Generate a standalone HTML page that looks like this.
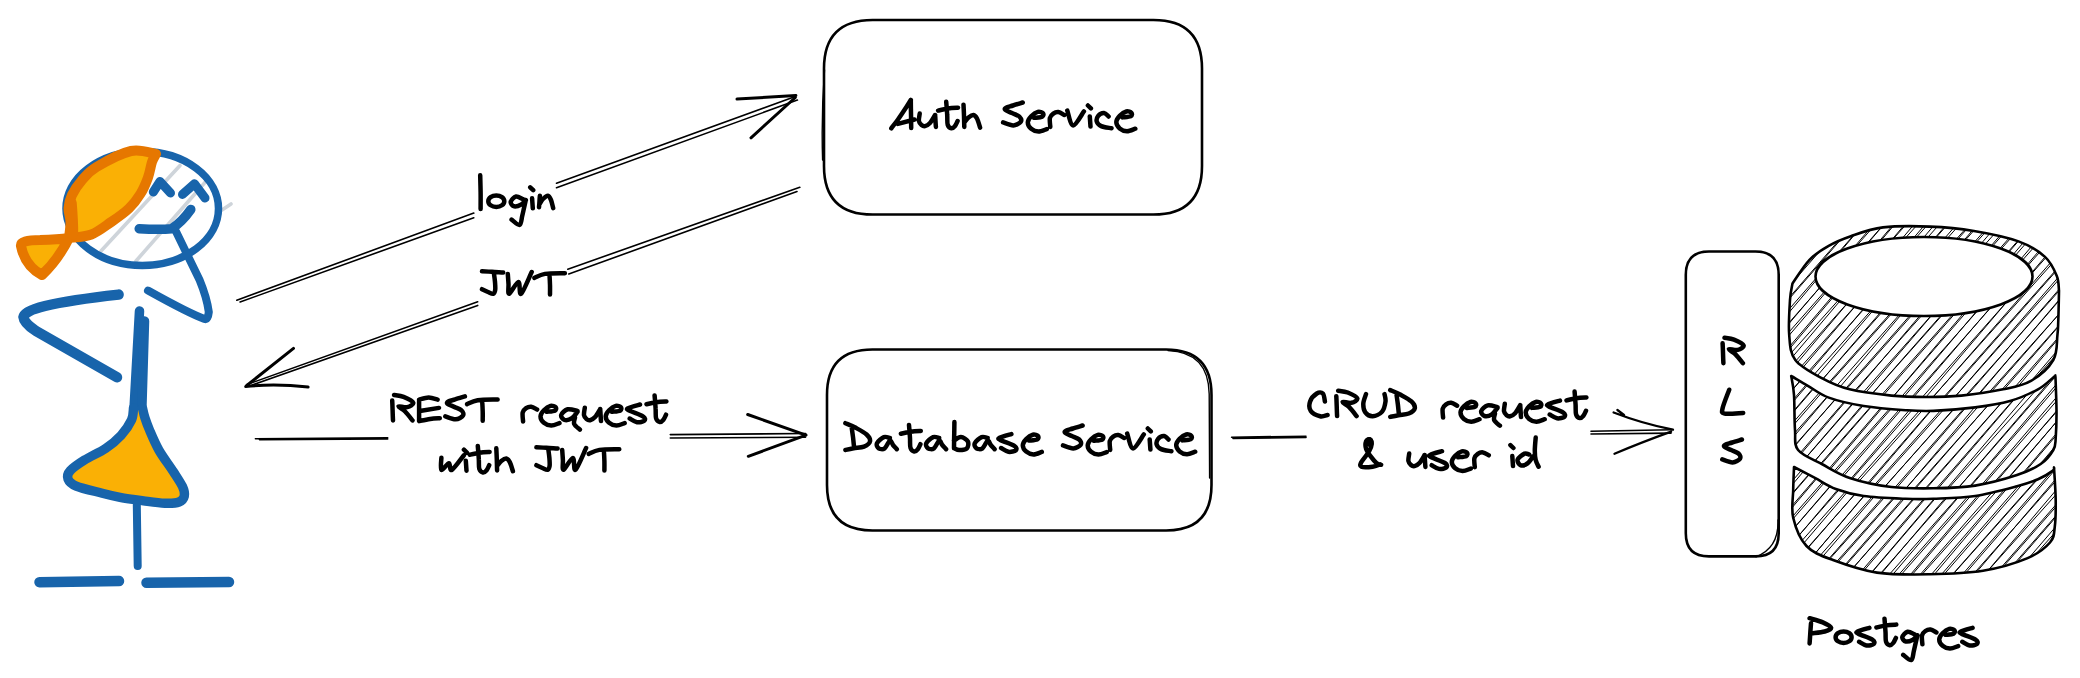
<!DOCTYPE html>
<html><head><meta charset="utf-8">
<style>
html,body{margin:0;padding:0;background:#fff;width:2080px;height:678px;overflow:hidden}
svg{display:block}

</style></head>
<body>
<svg width="2080" height="678" viewBox="0 0 2080 678">

<g fill="none" stroke="#000" stroke-width="2.6" stroke-linecap="round" stroke-linejoin="round">
<!-- Auth box -->
<path d="M872.6,20 L1153.4,20 Q1202,20 1202,68.6 L1202,165.9 Q1202,214.5 1153.4,214.5 L872.6,214.5 Q824,214.5 824,165.9 L824,68.6 Q824,20 872.6,20 Z"/>
<!-- DB box -->
<path d="M872.4,349.5 L1166.1,349.5 Q1211.5,349.5 1211.5,394.9 L1211.5,485.1 Q1211.5,530.5 1166.1,530.5 L872.4,530.5 Q827,530.5 827,485.1 L827,394.9 Q827,349.5 872.4,349.5 Z"/>
<!-- RLS box -->
<path d="M1709,251.5 L1755.5,251.5 Q1778.7,251.5 1778.7,274.7 L1778.7,533.2 Q1778.7,556.4 1755.5,556.4 L1709,556.4 Q1685.8,556.4 1685.8,533.2 L1685.8,274.7 Q1685.8,251.5 1709,251.5 Z"/>
<path stroke-width="1.4" d="M824.5,70 Q821.2,115 822.6,160 M1168,350.6 Q1208.5,352 1209.2,394 L1209.6,478 M1778,520 Q1779,548 1756,556.8"/>
<!-- arrows -->
</g>
<g fill="none" stroke="#000" stroke-linecap="round" stroke-linejoin="round">
<path stroke-width="1.6" d="M236.8,300.2L473.8,213.1M240.1,302L473.8,217.7M556.5,183.3L795.3,96.5M556.5,187.7L797.4,100.1
M799.8,187.3L567.8,269.2M797,191.5L568.8,274M477.7,301.7L247,384.5M477.7,305.4L250,385.8
M255.4,438.8L387.7,437.9M259.4,439.6L387.7,439M670.3,434.6L805.5,433.5M670.3,438L805.5,437.2
M1231.6,437.2L1306,436.2M1233,438.4L1306,437.4M1591,431.2L1672,429.7M1591,434L1671.1,433.1"/>
<path stroke-width="3" d="M737,99.1L795.9,95.5M751,137.8L795.3,97.5
M293.5,348.4L246.5,385.7M308.1,387Q275,383.5 245.7,386.5
M747.7,414.5L806,435.1M748.3,456.3L806,435.1
"/>
<path stroke-width="2.3" d="M1613.6,412.5Q1642,423.5 1673,429.7M1617.4,410L1624,415M1614.5,453.7Q1641,442.5 1671.1,431.6"/>
</g>
<!-- Cylinder -->
<g id="cyl">
<defs>
<clipPath id="c1"><path d="M1792.5,283.4C1795.3,279.5 1803.5,266.1 1809.5,259.8C1815.5,253.5 1821.8,249.7 1828.7,245.8C1835.6,241.9 1841.8,239.3 1850.8,236.2C1859.8,233.1 1869.8,229.0 1883.0,227.4C1896.2,225.8 1914.8,226.0 1930.0,226.6C1945.2,227.2 1959.2,228.5 1974.0,231.0C1988.8,233.5 2006.7,237.1 2018.5,241.4C2030.3,245.7 2038.6,251.1 2045.0,256.9C2051.4,262.7 2054.5,270.4 2056.8,276.0C2059.1,281.6 2058.6,288.3 2059.0,290.8C2058.9,295.7 2058.6,312.6 2058.3,320.0C2058.0,327.4 2058.2,328.7 2057.4,335.4C2056.6,342.1 2057.7,352.4 2053.3,360.0C2048.9,367.6 2039.4,376.0 2031.0,380.9C2022.6,385.8 2014.7,386.9 2003.1,389.3C1991.5,391.8 1974.1,394.3 1961.3,395.6C1948.5,396.9 1938.0,397.0 1926.4,397.0C1914.8,397.0 1904.3,396.9 1891.5,395.6C1878.7,394.3 1861.3,392.2 1849.7,389.3C1838.1,386.4 1830.9,383.0 1821.8,378.1C1812.7,373.2 1800.7,367.2 1795.3,360.0C1789.9,352.8 1790.1,345.0 1789.2,335.0C1788.3,325.0 1789.5,308.6 1790.0,300.0C1790.5,291.4 1792.1,286.2 1792.5,283.4Z"/></clipPath>
<clipPath id="c2"><path d="M1791.2,376.0C1794.0,377.6 1801.6,382.2 1807.9,385.8C1814.2,389.4 1819.5,394.2 1828.8,397.6C1838.1,401.0 1850.9,403.9 1863.7,406.0C1876.5,408.1 1893.9,409.4 1905.5,410.2C1917.1,411.0 1921.8,411.4 1933.4,410.9C1945.0,410.4 1962.4,409.0 1975.2,407.4C1988.0,405.8 1999.5,404.1 2010.0,401.1C2020.5,398.1 2030.8,393.2 2038.0,389.3C2045.2,385.4 2050.4,379.7 2053.3,377.4C2056.2,375.1 2055.1,375.6 2055.4,375.3C2055.6,381.1 2056.4,399.6 2056.5,410.0C2056.6,420.4 2056.2,431.3 2055.7,438.0C2055.2,444.7 2055.8,445.7 2053.3,450.0C2050.8,454.3 2046.8,459.8 2040.7,464.0C2034.7,468.2 2027.9,471.5 2017.0,475.1C2006.1,478.7 1989.1,483.4 1975.2,485.6C1961.3,487.8 1947.4,488.1 1933.4,488.3C1919.5,488.5 1905.5,488.7 1891.5,487.0C1877.5,485.3 1861.3,481.7 1849.7,477.9C1838.1,474.1 1830.4,468.6 1821.8,464.0C1813.2,459.4 1802.6,455.7 1798.1,450.0C1793.6,444.3 1795.7,439.2 1795.0,430.0C1794.3,420.8 1794.6,403.9 1794.0,394.9C1793.4,385.9 1791.7,379.1 1791.2,376.0Z"/></clipPath>
<clipPath id="c3"><path d="M1794.0,467.0C1797.5,468.8 1807.9,474.2 1814.9,477.9C1821.9,481.6 1827.7,486.0 1835.8,489.0C1843.9,492.0 1852.1,494.4 1863.7,496.0C1875.3,497.6 1893.9,498.3 1905.5,498.8C1917.1,499.3 1921.8,499.3 1933.4,498.8C1945.0,498.3 1961.3,498.1 1975.2,496.0C1989.1,493.9 2006.5,489.1 2017.0,486.3C2027.5,483.5 2032.1,481.9 2038.0,479.3C2043.9,476.7 2049.9,472.9 2052.6,470.9C2055.3,468.9 2053.8,468.0 2054.0,467.4C2054.3,472.8 2055.6,490.1 2055.7,500.0C2055.8,509.9 2055.8,519.4 2054.8,526.5C2053.9,533.6 2054.6,537.2 2050.0,542.5C2045.4,547.8 2038.2,553.7 2027.0,558.4C2015.8,563.1 1999.2,568.1 1983.0,570.8C1966.8,573.4 1947.7,574.0 1930.0,574.3C1912.3,574.6 1893.2,575.0 1877.0,572.6C1860.8,570.2 1844.8,564.4 1833.0,560.0C1821.2,555.6 1813.1,553.0 1806.5,546.0C1799.9,539.0 1795.4,527.0 1793.2,517.7C1791.0,508.4 1793.1,498.4 1793.2,490.0C1793.3,481.6 1793.9,470.8 1794.0,467.0Z"/></clipPath>
</defs>
<g clip-path="url(#c1)"><path d="M1688.6,331.5L1907.9,72.7M1687.7,330.8L1910.2,74.7M1691.7,334.3L1916.7,80.4M1694.2,336.5L1915.8,79.5M1697.5,339.3L1923.2,86.0M1697.9,339.6L1923.6,86.4M1705.8,346.5L1926.9,89.2M1707.0,347.6L1925.9,88.3M1711.8,351.7L1933.2,94.6M1710.5,350.6L1935.7,96.8M1716.5,355.9L1938.9,99.6M1716.0,355.4L1940.9,101.4M1720.8,359.5L1947.0,106.6M1723.3,361.8L1946.4,106.1M1729.1,366.8L1951.5,110.6M1729.7,367.3L1952.3,111.3M1734.7,371.6L1957.6,115.9M1737.3,373.8L1956.0,114.5M1742.4,378.3L1962.4,120.0M1741.1,377.2L1965.1,122.4M1745.7,381.2L1969.9,126.6M1748.1,383.3L1968.6,125.5M1753.9,388.4L1973.8,130.0M1755.2,389.4L1974.2,130.3M1757.0,391.0L1983.4,138.3M1760.8,394.3L1980.2,135.5M1766.5,399.2L1985.3,140.0M1763.7,396.9L1989.6,143.7M1771.8,403.9L1992.2,146.0M1769.6,402.0L1995.4,148.7M1778.3,409.5L1997.3,150.4M1776.2,407.7L2001.7,154.3M1780.9,411.8L2006.5,158.4M1784.1,414.6L2004.4,156.6M1788.6,418.5L2010.7,162.0M1788.2,418.1L2013.1,164.1M1793.3,422.6L2018.7,169.0M1794.1,423.2L2019.6,169.8M1799.4,427.8L2024.1,173.7M1802.9,430.9L2021.9,171.8M1806.0,433.6L2030.1,178.9M1806.6,434.2L2031.4,180.1M1813.8,440.4L2033.6,182.0M1811.9,438.8L2037.6,185.4M1817.7,443.8L2042.5,189.7M1820.1,445.9L2040.6,188.0M1823.5,448.9L2047.7,194.2M1823.3,448.6L2049.0,195.3M1829.5,454.1L2054.1,199.7M1830.9,455.2L2054.4,200.1M1838.2,461.5L2057.2,202.5M1837.5,461.0L2059.5,204.5M1841.5,464.4L2066.5,210.5M1844.4,467.0L2063.9,208.3M1847.7,469.8L2072.1,215.5M1849.8,471.7L2070.5,214.1M1853.5,474.9L2078.4,220.9M1857.1,478.1L2076.8,219.5M1860.1,480.7L2083.3,225.1M1859.0,479.7L2085.1,226.7M1865.7,485.5L2090.2,231.2M1866.4,486.1L2090.9,231.7M1872.9,491.8L2094.7,235.1M1871.7,490.7L2096.7,236.8M1876.8,495.1L2102.7,242.0M1879.0,497.1L2101.2,240.7M1885.0,502.3L2106.7,245.5M1886.5,503.6L2105.8,244.7M1888.2,505.0L2114.4,252.2M1890.6,507.2L2113.6,251.5M1894.6,510.7L2119.7,256.8M1897.2,512.9L2119.2,256.4M1901.4,516.5L2125.0,261.4M1905.3,519.9L2124.2,260.7M1909.0,523.2L2130.1,265.9M1907.7,522.0L2133.0,268.4M1912.0,525.7L2138.2,272.9M1916.2,529.4L2137.2,272.0M1918.7,531.5L2144.9,278.7M1921.0,533.6L2143.8,277.7M1925.6,537.6L2149.6,282.8M1925.9,537.8L2151.7,284.6M1933.1,544.1L2153.8,286.4M1934.3,545.1L2155.0,287.5M1939.4,549.5L2159.7,291.6M1938.8,549.0L2162.5,294.0" stroke="#000" stroke-width="1.0" fill="none"/></g>
<ellipse cx="1924" cy="276.5" rx="108.5" ry="39.5" fill="#fff" stroke="#000" stroke-width="2.6"/>
<g clip-path="url(#c2)"><path d="M1708.7,451.4L1911.2,213.1M1708.8,451.5L1911.9,213.8M1713.6,455.6L1918.2,219.2M1713.6,455.7L1919.5,220.4M1719.5,460.8L1923.8,224.1M1719.9,461.1L1924.0,224.3M1726.7,467.1L1929.1,228.8M1725.7,466.2L1931.6,230.9M1731.4,471.2L1936.0,234.7M1732.9,472.5L1935.7,234.4M1737.5,476.5L1940.9,239.0M1737.6,476.6L1942.1,240.0M1742.0,480.3L1949.0,246.0M1744.0,482.1L1949.1,246.1M1750.5,487.7L1952.6,249.2M1747.8,485.4L1956.3,252.4M1755.4,492.0L1959.2,254.9M1754.2,491.0L1961.7,257.1M1761.7,497.5L1965.7,260.6M1763.0,498.6L1965.4,260.3M1767.3,502.4L1971.3,265.4M1767.1,502.2L1972.7,266.7M1774.5,508.6L1976.7,270.1M1773.7,507.9L1979.6,272.6M1778.2,511.9L1984.7,277.0M1779.2,512.7L1984.4,276.8M1786.3,518.9L1988.9,280.7M1787.4,519.9L1989.4,281.1M1789.4,521.6L1996.9,287.7M1790.8,522.8L1997.5,288.2M1796.2,527.5L2002.0,292.1M1797.7,528.8L2002.9,292.8M1803.8,534.1L2006.5,296.0M1803.9,534.2L2009.4,298.5M1806.7,536.6L2015.2,303.6M1808.3,538.0L2016.7,304.9M1815.1,543.9L2019.7,307.5M1816.4,545.0L2019.4,307.2M1819.0,547.3L2026.7,313.6M1819.8,548.0L2028.3,314.9M1826.0,553.4L2033.0,319.0M1825.5,552.9L2033.8,319.8M1832.5,559.1L2038.1,323.4M1834.2,560.5L2038.2,323.5M1840.5,566.0L2042.3,327.2M1838.6,564.3L2045.8,330.2M1843.4,568.5L2050.8,334.6M1844.8,569.7L2050.1,333.9M1849.6,573.9L2057.0,339.9M1850.6,574.8L2056.8,339.8M1856.8,580.1L2061.8,344.0M1858.4,581.6L2061.7,344.0M1863.5,586.0L2066.6,348.2M1862.3,585.0L2070.4,351.6M1869.6,591.3L2073.2,354.0M1868.8,590.6L2074.3,354.9M1876.1,596.9L2078.3,358.4M1875.4,596.4L2080.1,360.0M1881.8,601.9L2084.8,364.1M1881.7,601.8L2087.0,366.0M1885.5,605.1L2092.7,371.0M1888.7,607.9L2091.5,369.9M1893.3,611.9L2096.9,374.6M1894.4,612.8L2096.7,374.4M1900.5,618.1L2102.2,379.2M1900.3,618.0L2103.4,380.2M1905.7,622.7L2107.9,384.2M1905.1,622.1L2111.3,387.1M1909.9,626.3L2115.4,390.7M1912.2,628.3L2115.4,390.7M1914.7,630.5L2123.1,397.4M1916.0,631.6L2124.2,398.3M1921.4,636.3L2128.9,402.4M1924.0,638.6L2127.1,400.9M1926.8,641.0L2134.4,407.2M1930.0,643.8L2133.5,406.4M1935.2,648.3L2139.0,411.2M1935.6,648.7L2140.8,412.7" stroke="#000" stroke-width="1.0" fill="none"/></g>
<g clip-path="url(#c3)"><path d="M1707.9,539.2L1914.5,305.5M1709.3,540.4L1915.4,306.3M1715.8,546.1L1919.5,309.9M1717.2,547.3L1919.4,309.8M1720.5,550.2L1926.5,316.0M1723.1,552.4L1925.2,314.9M1726.4,555.3L1933.1,321.7M1730.0,558.4L1931.3,320.2M1733.4,561.4L1937.5,325.5M1733.7,561.7L1938.1,326.1M1739.5,566.6L1943.3,330.6M1741.1,568.0L1942.4,329.8M1744.7,571.2L1950.0,336.5M1746.4,572.7L1950.6,336.9M1751.7,577.3L1955.0,340.7M1751.6,577.2L1955.9,341.5M1758.6,583.2L1960.0,345.1M1757.5,582.3L1963.7,348.4M1761.7,585.9L1968.9,352.9M1764.9,588.7L1967.3,351.4M1769.2,592.5L1974.0,357.3M1768.5,591.9L1975.3,358.4M1776.6,598.9L1978.2,360.9M1776.4,598.7L1979.0,361.7M1779.5,601.4L1986.3,368.0M1782.2,603.7L1985.4,367.2M1786.3,607.3L1991.9,372.9M1786.5,607.5L1993.9,374.6M1791.8,612.1L1999.0,379.0M1792.9,613.1L1999.2,379.2M1798.8,618.2L2003.2,382.6M1799.2,618.6L2004.7,384.0M1804.9,623.5L2009.3,388.0M1804.3,623.0L2011.0,389.4M1811.4,629.2L2015.1,393.0M1813.0,630.5L2015.1,393.0M1818.2,635.1L2020.3,397.5M1818.2,635.1L2021.1,398.3M1824.5,640.5L2026.2,402.7M1822.8,639.1L2028.7,404.8M1828.1,643.7L2034.7,410.1M1831.5,646.7L2033.4,408.9M1833.6,648.5L2040.0,414.7M1835.0,649.7L2041.3,415.8M1841.6,655.4L2043.9,418.0M1842.5,656.2L2045.1,419.1M1846.1,659.3L2051.4,424.6M1846.1,659.3L2054.1,426.9M1853.1,665.5L2056.5,429.0M1855.6,667.6L2056.9,429.4M1858.4,670.1L2063.0,434.6M1859.8,671.3L2064.4,435.9M1863.7,674.7L2070.5,441.2M1863.7,674.6L2071.1,441.7M1870.5,680.5L2074.7,444.9M1871.8,681.6L2075.9,445.8M1875.3,684.7L2082.1,451.3M1878.4,687.4L2080.6,449.9M1884.5,692.7L2086.1,454.7M1881.5,690.1L2089.2,457.4M1888.8,696.5L2093.7,461.3M1889.1,696.7L2094.9,462.4M1894.6,701.5L2099.1,466.0M1895.7,702.5L2099.6,466.5M1900.9,707.0L2104.1,470.4M1900.6,706.7L2107.5,473.3M1907.4,712.6L2110.3,475.7M1906.2,711.6L2113.0,478.1M1912.3,716.9L2116.8,481.4M1914.2,718.6L2116.1,480.8M1919.5,723.1L2122.6,486.5M1920.2,723.7L2123.9,487.6M1924.8,727.7L2128.7,491.7M1927.0,729.7L2128.2,491.4M1929.8,732.1L2136.2,498.2M1932.6,734.5L2135.5,497.7M1937.8,739.0L2140.2,501.7M1938.6,739.7L2140.4,501.9" stroke="#000" stroke-width="1.0" fill="none"/></g>
<g fill="none" stroke="#000" stroke-width="2.6" stroke-linejoin="round"><path d="M1792.5,283.4C1795.3,279.5 1803.5,266.1 1809.5,259.8C1815.5,253.5 1821.8,249.7 1828.7,245.8C1835.6,241.9 1841.8,239.3 1850.8,236.2C1859.8,233.1 1869.8,229.0 1883.0,227.4C1896.2,225.8 1914.8,226.0 1930.0,226.6C1945.2,227.2 1959.2,228.5 1974.0,231.0C1988.8,233.5 2006.7,237.1 2018.5,241.4C2030.3,245.7 2038.6,251.1 2045.0,256.9C2051.4,262.7 2054.5,270.4 2056.8,276.0C2059.1,281.6 2058.6,288.3 2059.0,290.8C2058.9,295.7 2058.6,312.6 2058.3,320.0C2058.0,327.4 2058.2,328.7 2057.4,335.4C2056.6,342.1 2057.7,352.4 2053.3,360.0C2048.9,367.6 2039.4,376.0 2031.0,380.9C2022.6,385.8 2014.7,386.9 2003.1,389.3C1991.5,391.8 1974.1,394.3 1961.3,395.6C1948.5,396.9 1938.0,397.0 1926.4,397.0C1914.8,397.0 1904.3,396.9 1891.5,395.6C1878.7,394.3 1861.3,392.2 1849.7,389.3C1838.1,386.4 1830.9,383.0 1821.8,378.1C1812.7,373.2 1800.7,367.2 1795.3,360.0C1789.9,352.8 1790.1,345.0 1789.2,335.0C1788.3,325.0 1789.5,308.6 1790.0,300.0C1790.5,291.4 1792.1,286.2 1792.5,283.4Z"/><path d="M1791.2,376.0C1794.0,377.6 1801.6,382.2 1807.9,385.8C1814.2,389.4 1819.5,394.2 1828.8,397.6C1838.1,401.0 1850.9,403.9 1863.7,406.0C1876.5,408.1 1893.9,409.4 1905.5,410.2C1917.1,411.0 1921.8,411.4 1933.4,410.9C1945.0,410.4 1962.4,409.0 1975.2,407.4C1988.0,405.8 1999.5,404.1 2010.0,401.1C2020.5,398.1 2030.8,393.2 2038.0,389.3C2045.2,385.4 2050.4,379.7 2053.3,377.4C2056.2,375.1 2055.1,375.6 2055.4,375.3C2055.6,381.1 2056.4,399.6 2056.5,410.0C2056.6,420.4 2056.2,431.3 2055.7,438.0C2055.2,444.7 2055.8,445.7 2053.3,450.0C2050.8,454.3 2046.8,459.8 2040.7,464.0C2034.7,468.2 2027.9,471.5 2017.0,475.1C2006.1,478.7 1989.1,483.4 1975.2,485.6C1961.3,487.8 1947.4,488.1 1933.4,488.3C1919.5,488.5 1905.5,488.7 1891.5,487.0C1877.5,485.3 1861.3,481.7 1849.7,477.9C1838.1,474.1 1830.4,468.6 1821.8,464.0C1813.2,459.4 1802.6,455.7 1798.1,450.0C1793.6,444.3 1795.7,439.2 1795.0,430.0C1794.3,420.8 1794.6,403.9 1794.0,394.9C1793.4,385.9 1791.7,379.1 1791.2,376.0Z"/><path d="M1794.0,467.0C1797.5,468.8 1807.9,474.2 1814.9,477.9C1821.9,481.6 1827.7,486.0 1835.8,489.0C1843.9,492.0 1852.1,494.4 1863.7,496.0C1875.3,497.6 1893.9,498.3 1905.5,498.8C1917.1,499.3 1921.8,499.3 1933.4,498.8C1945.0,498.3 1961.3,498.1 1975.2,496.0C1989.1,493.9 2006.5,489.1 2017.0,486.3C2027.5,483.5 2032.1,481.9 2038.0,479.3C2043.9,476.7 2049.9,472.9 2052.6,470.9C2055.3,468.9 2053.8,468.0 2054.0,467.4C2054.3,472.8 2055.6,490.1 2055.7,500.0C2055.8,509.9 2055.8,519.4 2054.8,526.5C2053.9,533.6 2054.6,537.2 2050.0,542.5C2045.4,547.8 2038.2,553.7 2027.0,558.4C2015.8,563.1 1999.2,568.1 1983.0,570.8C1966.8,573.4 1947.7,574.0 1930.0,574.3C1912.3,574.6 1893.2,575.0 1877.0,572.6C1860.8,570.2 1844.8,564.4 1833.0,560.0C1821.2,555.6 1813.1,553.0 1806.5,546.0C1799.9,539.0 1795.4,527.0 1793.2,517.7C1791.0,508.4 1793.1,498.4 1793.2,490.0C1793.3,481.6 1793.9,470.8 1794.0,467.0Z"/></g>
</g>
<!-- texts -->
<g id="txt" fill="none" stroke="#000" stroke-width="4.5" stroke-linecap="round" stroke-linejoin="round"><path d="M891.3,128.3C892.4,126.8 895.5,123.0 898.0,119.5C900.5,116.0 904.3,110.2 906.4,107.0C908.5,103.8 910.1,101.2 910.8,100.0M910.8,100.0C910.8,102.3 910.9,109.3 911.0,114.0C911.1,118.7 911.2,125.7 911.2,128.0M897.9,123.9L914.5,119.5M919.7,113.6C919.6,114.8 918.6,119.1 918.9,121.0C919.2,122.9 920.5,124.2 921.5,125.0C922.5,125.8 923.6,126.4 925.0,126.1C926.4,125.8 928.3,124.8 930.0,123.0C931.7,121.2 934.2,116.3 935.1,115.0M935.1,115.0C935.2,116.0 935.4,119.0 935.5,121.0C935.6,123.0 935.8,125.9 935.9,126.9M946.2,101.8C946.4,104.0 947.0,111.2 947.2,115.0C947.5,118.8 947.0,122.5 947.7,124.7C948.4,126.9 950.2,128.1 951.4,128.3C952.6,128.5 954.0,127.2 955.0,126.0C956.0,124.8 957.2,121.8 957.6,121.0M938.1,110.6C939.8,110.2 944.7,109.0 948.0,108.5C951.3,108.0 956.3,107.8 958.0,107.7M963.5,104.7C963.6,106.6 963.9,112.3 964.0,116.0C964.1,119.7 964.2,125.1 964.3,126.9M964.3,122.4C965.0,121.6 967.0,118.7 968.5,117.5C970.0,116.3 972.1,114.8 973.5,115.0C974.9,115.2 975.9,116.4 977.0,118.5C978.1,120.6 979.6,126.1 980.1,127.6M1022.7,102.5C1021.1,103.0 1015.8,104.6 1013.0,105.5C1010.2,106.4 1007.4,107.0 1006.1,107.7C1004.8,108.4 1004.3,109.0 1005.3,109.9C1006.3,110.8 1009.7,111.9 1012.0,113.0C1014.3,114.1 1017.8,115.0 1019.3,116.5C1020.8,118.0 1021.8,120.2 1020.8,121.7C1019.8,123.2 1016.3,125.3 1013.4,125.4C1010.5,125.5 1004.8,122.9 1003.1,122.4M1034.1,117.8C1035.4,117.6 1040.7,117.5 1042.2,116.7C1043.7,116.0 1043.7,114.1 1043.0,113.3C1042.3,112.5 1039.8,111.4 1037.8,111.9C1035.8,112.4 1032.9,114.5 1031.2,116.3C1029.5,118.1 1027.8,120.4 1027.8,122.5C1027.8,124.6 1029.4,127.3 1031.2,128.8C1033.0,130.3 1035.9,131.6 1038.5,131.6C1041.1,131.6 1045.4,129.5 1046.8,129.1M1050.3,126.9C1050.2,125.4 1049.4,120.2 1049.9,118.0C1050.4,115.8 1051.9,114.6 1053.3,113.6C1054.7,112.6 1056.6,111.9 1058.4,112.1C1060.2,112.3 1063.3,114.5 1064.3,115.0M1067.3,110.6C1068.3,113.1 1070.4,125.3 1073.2,125.4C1076.0,125.5 1082.1,113.7 1083.9,111.4M1087.9,105.5L1090.9,108.4M1089.8,116.5L1090.5,126.5M1108.6,116.5C1107.8,115.9 1105.8,113.0 1104.1,112.9C1102.4,112.8 1099.4,114.3 1098.2,115.8C1097.0,117.3 1096.3,120.0 1096.8,121.7C1097.3,123.4 1098.8,125.0 1101.2,126.1C1103.7,127.2 1109.8,127.9 1111.5,128.3M1122.6,117.4C1123.9,117.2 1129.2,117.0 1130.7,116.3C1132.2,115.5 1132.2,113.7 1131.5,112.9C1130.8,112.1 1128.3,111.0 1126.3,111.5C1124.3,112.0 1121.4,114.1 1119.7,115.9C1118.0,117.7 1116.3,120.0 1116.3,122.1C1116.3,124.2 1117.9,126.9 1119.7,128.4C1121.5,129.9 1124.4,131.1 1127.0,131.2C1129.6,131.2 1133.9,129.1 1135.3,128.7M845.4,423.2C847.0,423.9 851.8,425.7 855.3,427.6C858.8,429.5 864.1,432.2 866.6,434.5C869.1,436.8 870.4,439.4 870.0,441.4C869.6,443.4 866.7,445.5 864.0,446.6C861.3,447.8 856.7,447.7 853.6,448.3C850.5,448.9 846.8,449.7 845.4,450.0M851.8,428.4C852.0,429.8 852.6,434.0 853.0,437.0C853.4,440.0 853.8,445.0 854.0,446.6M889.9,438.0C888.9,437.9 886.0,436.2 883.9,437.1C881.8,438.0 877.9,441.3 877.0,443.2C876.1,445.1 877.4,447.4 878.7,448.3C880.0,449.2 882.8,449.6 884.7,448.3C886.6,447.0 888.5,441.2 889.9,440.6C891.3,440.1 891.9,443.6 893.0,445.0C894.1,446.4 896.2,448.5 896.8,449.2M909.0,425.0C909.2,427.2 909.8,434.4 910.0,438.2C910.2,442.0 909.8,445.7 910.5,447.9C911.2,450.1 913.0,451.3 914.2,451.5C915.4,451.7 916.8,450.4 917.8,449.2C918.8,448.0 920.0,445.0 920.4,444.2M900.9,433.8C902.5,433.4 907.5,432.2 910.8,431.7C914.1,431.2 919.1,431.0 920.8,430.9M939.2,438.0C938.2,437.9 935.3,436.2 933.2,437.1C931.0,438.0 927.2,441.3 926.3,443.2C925.4,445.1 926.7,447.4 928.0,448.3C929.3,449.2 932.1,449.6 934.0,448.3C935.9,447.0 937.8,441.2 939.2,440.6C940.6,440.1 941.1,443.6 942.3,445.0C943.4,446.4 945.5,448.5 946.1,449.2M954.4,422.0C954.4,424.2 954.3,430.6 954.2,435.0C954.1,439.4 954.0,446.1 954.0,448.3M954.0,440.6C955.1,440.0 958.6,437.0 960.9,437.1C963.2,437.2 966.8,439.5 967.8,441.4C968.8,443.3 968.3,446.9 966.9,448.3C965.5,449.7 961.3,450.0 959.2,450.0C957.1,450.0 955.2,448.6 954.4,448.3M987.7,438.0C986.7,437.9 983.8,436.2 981.7,437.1C979.5,438.0 975.7,441.3 974.8,443.2C973.9,445.1 975.2,447.4 976.5,448.3C977.8,449.2 980.6,449.6 982.5,448.3C984.4,447.0 986.3,441.2 987.7,440.6C989.1,440.1 989.6,443.6 990.8,445.0C991.9,446.4 994.0,448.5 994.6,449.2M1011.4,434.1C1009.4,434.7 1001.5,436.8 999.6,437.8C997.8,438.8 997.8,438.6 1000.3,440.0C1002.8,441.4 1011.7,444.2 1014.3,445.9C1016.9,447.6 1016.8,449.3 1015.8,450.3C1014.8,451.3 1010.8,452.2 1008.4,451.8C1006.0,451.4 1002.3,448.7 1001.1,448.1M1029.1,440.6C1030.4,440.4 1035.7,440.2 1037.2,439.5C1038.7,438.8 1038.7,436.9 1038.0,436.1C1037.3,435.3 1034.8,434.2 1032.8,434.7C1030.8,435.2 1027.9,437.3 1026.2,439.1C1024.5,440.9 1022.8,443.2 1022.8,445.3C1022.8,447.4 1024.4,450.1 1026.2,451.6C1028.0,453.1 1030.9,454.3 1033.5,454.4C1036.1,454.4 1040.4,452.3 1041.8,451.9M1082.6,425.5C1081.0,426.0 1075.7,427.6 1072.9,428.5C1070.1,429.4 1067.3,430.0 1066.0,430.7C1064.7,431.4 1064.2,432.0 1065.2,432.9C1066.2,433.8 1069.6,434.9 1071.9,436.0C1074.2,437.1 1077.7,438.1 1079.2,439.5C1080.7,440.9 1081.7,443.2 1080.7,444.7C1079.7,446.2 1076.2,448.3 1073.3,448.4C1070.3,448.5 1064.7,445.9 1063.0,445.4M1094.0,440.8C1095.3,440.6 1100.6,440.4 1102.1,439.7C1103.6,438.9 1103.6,437.1 1102.9,436.3C1102.2,435.5 1099.7,434.4 1097.7,434.9C1095.7,435.4 1092.8,437.5 1091.1,439.3C1089.4,441.1 1087.7,443.4 1087.7,445.5C1087.7,447.6 1089.3,450.3 1091.1,451.8C1092.9,453.3 1095.8,454.6 1098.4,454.6C1101.0,454.7 1105.3,452.5 1106.7,452.1M1110.2,449.9C1110.1,448.4 1109.3,443.2 1109.8,441.0C1110.3,438.8 1111.8,437.6 1113.2,436.6C1114.6,435.6 1116.5,434.9 1118.3,435.1C1120.1,435.3 1123.2,437.5 1124.2,438.0M1127.2,433.6C1128.2,436.1 1130.3,448.3 1133.1,448.4C1135.9,448.5 1142.0,436.7 1143.8,434.4M1147.8,428.5L1150.8,431.4M1149.7,439.5L1150.4,449.5M1168.5,439.5C1167.8,438.9 1165.7,436.0 1164.0,435.9C1162.3,435.8 1159.3,437.3 1158.1,438.8C1156.9,440.3 1156.2,443.0 1156.7,444.7C1157.2,446.4 1158.7,448.0 1161.1,449.1C1163.6,450.2 1169.7,450.9 1171.4,451.3M1182.5,440.4C1183.8,440.2 1189.1,440.1 1190.6,439.3C1192.1,438.6 1192.1,436.7 1191.4,435.9C1190.7,435.1 1188.2,434.0 1186.2,434.5C1184.2,435.0 1181.3,437.1 1179.6,438.9C1177.9,440.7 1176.2,443.0 1176.2,445.1C1176.2,447.2 1177.8,449.9 1179.6,451.4C1181.4,452.9 1184.3,454.2 1186.9,454.2C1189.5,454.3 1193.8,452.1 1195.2,451.7M480.2,175.3C480.3,178.1 480.5,186.5 480.6,192.1C480.7,197.7 480.6,206.1 480.6,208.9M523.1,199.2C521.9,198.8 518.1,196.1 516.0,196.5C513.9,196.9 511.0,200.3 510.7,201.9C510.4,203.5 512.4,205.9 514.2,206.3C516.0,206.7 519.4,205.5 521.3,204.5C523.2,203.5 525.0,200.8 525.8,200.1M525.8,200.1C525.5,201.4 524.6,205.3 524.0,208.0C523.4,210.7 522.9,213.2 522.2,216.0C521.5,218.8 521.4,224.3 519.6,224.9C517.8,225.5 512.9,220.5 511.6,219.6M530.2,187.3L533.2,190.2M532.1,198.3L532.8,208.3M539.9,195.7C539.8,196.6 539.6,199.1 539.5,201.0C539.4,202.9 539.1,206.2 539.0,207.2M539.9,203.6C540.4,202.8 541.7,200.3 543.0,199.0C544.3,197.7 546.6,195.5 547.9,195.7C549.2,195.9 550.1,197.9 551.0,200.0C551.9,202.1 552.8,206.8 553.2,208.1M482.0,271.3C483.7,271.4 488.5,271.6 492.0,271.8C495.5,272.0 501.3,272.5 503.2,272.6M493.9,273.3C494.1,274.8 494.8,279.2 495.0,282.0C495.2,284.8 495.5,287.9 495.2,289.9C494.9,291.9 494.4,293.4 493.2,293.8C492.0,294.2 489.9,292.8 488.0,292.0C486.1,291.2 483.0,289.7 482.0,289.2M507.8,273.9C507.9,275.6 508.3,280.7 508.5,284.0C508.7,287.3 507.6,294.2 509.2,293.8C510.8,293.4 516.4,281.9 518.4,281.9C520.4,281.9 518.9,295.4 521.1,293.8C523.3,292.2 529.9,275.6 531.7,272.0M534.4,277.9C536.2,277.2 539.9,274.7 545.0,273.9C550.1,273.1 561.6,273.4 564.9,273.3M549.6,276.6C549.7,278.0 549.9,282.0 550.0,285.0C550.1,288.0 550.0,292.9 550.0,294.5M392.2,400.5C392.3,402.1 392.5,406.7 392.6,410.0C392.7,413.3 392.9,418.7 393.0,420.4M394.1,395.0C395.7,395.3 400.4,395.5 403.6,396.8C406.8,398.1 412.6,401.0 413.2,402.7C413.8,404.4 409.8,406.5 407.3,407.1C404.9,407.7 398.9,405.7 398.5,406.4C398.1,407.1 402.8,409.2 405.1,411.5C407.4,413.8 411.3,418.9 412.5,420.4M419.1,400.5C419.1,402.1 419.1,406.7 419.1,410.0C419.1,413.3 419.1,418.7 419.1,420.4M419.1,399.7C420.7,399.3 425.6,397.5 428.7,397.5C431.8,397.5 436.1,399.3 437.6,399.7M421.3,410.8L439.0,407.9M419.1,421.1C421.0,420.7 426.8,419.4 430.2,418.9C433.6,418.4 438.2,418.3 439.8,418.2M464.9,396.4C463.3,396.9 458.0,398.5 455.2,399.4C452.4,400.3 449.6,400.9 448.3,401.6C447.0,402.3 446.5,402.9 447.5,403.8C448.5,404.7 451.9,405.8 454.2,406.9C456.5,408.0 460.0,408.9 461.5,410.4C463.0,411.8 464.0,414.1 463.0,415.6C462.0,417.1 458.6,419.2 455.6,419.3C452.7,419.4 447.0,416.8 445.3,416.3M467.1,404.2C468.9,403.5 472.6,401.0 477.7,400.2C482.8,399.4 494.3,399.7 497.6,399.6M482.3,402.9C482.4,404.3 482.6,408.3 482.7,411.3C482.8,414.3 482.7,419.2 482.7,420.8M523.1,421.5C523.0,420.0 522.2,414.8 522.7,412.6C523.2,410.4 524.7,409.2 526.1,408.2C527.5,407.2 529.4,406.5 531.2,406.7C533.0,406.9 536.1,409.1 537.1,409.6M546.8,411.8C548.1,411.6 553.4,411.4 554.9,410.7C556.4,409.9 556.4,408.1 555.7,407.3C555.0,406.5 552.5,405.4 550.5,405.9C548.5,406.4 545.6,408.5 543.9,410.3C542.2,412.1 540.5,414.4 540.5,416.5C540.5,418.6 542.1,421.3 543.9,422.8C545.7,424.3 548.6,425.6 551.2,425.6C553.8,425.7 558.1,423.5 559.5,423.1M577.5,411.0C575.9,410.7 570.4,408.6 567.7,409.3C565.0,410.0 561.7,413.2 561.2,415.0C560.7,416.8 562.7,419.3 564.5,419.9C566.3,420.4 569.6,419.6 571.8,418.3C574.0,417.0 576.5,412.9 577.5,411.8M575.0,417.5C574.9,418.6 573.4,422.0 574.2,424.0C575.0,426.0 579.0,428.7 579.9,429.6M584.8,407.7C584.7,408.9 583.7,413.2 584.0,415.1C584.3,417.0 585.6,418.2 586.6,419.1C587.6,420.0 588.7,420.5 590.1,420.2C591.5,419.9 593.4,419.0 595.1,417.1C596.8,415.2 599.4,410.4 600.2,409.1M600.2,409.1C600.3,410.1 600.5,413.1 600.6,415.1C600.7,417.1 600.9,420.0 601.0,421.0M612.0,411.8C613.3,411.6 618.6,411.4 620.1,410.7C621.6,409.9 621.6,408.1 620.9,407.3C620.2,406.5 617.7,405.4 615.7,405.9C613.7,406.4 610.8,408.5 609.1,410.3C607.4,412.1 605.7,414.4 605.7,416.5C605.7,418.6 607.3,421.3 609.1,422.8C610.9,424.3 613.8,425.6 616.4,425.6C619.0,425.7 623.3,423.5 624.7,423.1M640.0,404.5C638.0,405.1 630.1,407.2 628.2,408.2C626.4,409.2 626.5,409.0 628.9,410.4C631.3,411.8 640.3,414.6 642.9,416.3C645.5,418.0 645.4,419.7 644.4,420.7C643.4,421.7 639.5,422.6 637.0,422.2C634.5,421.8 630.9,419.1 629.7,418.5M654.6,395.5C654.8,397.7 655.4,404.9 655.6,408.7C655.9,412.5 655.4,416.2 656.1,418.4C656.8,420.6 658.6,421.8 659.8,422.0C661.0,422.2 662.4,420.9 663.4,419.7C664.4,418.5 665.6,415.5 666.0,414.7M646.5,404.3C648.1,403.9 653.1,402.7 656.4,402.2C659.7,401.7 664.7,401.5 666.4,401.4M441.4,457.7C441.4,459.7 440.1,469.0 441.4,469.9C442.6,470.8 447.2,463.3 448.9,463.3C450.6,463.3 449.3,471.2 451.8,469.9C454.3,468.6 461.9,457.7 463.9,455.3M463.9,449.7L466.9,452.6M465.8,460.7L466.5,470.7M477.8,446.0C478.0,448.2 478.6,455.4 478.8,459.2C479.1,463.0 478.6,466.7 479.3,468.9C480.0,471.1 481.8,472.3 483.0,472.5C484.2,472.7 485.6,471.4 486.6,470.2C487.6,469.0 488.8,466.0 489.2,465.2M469.7,454.8C471.4,454.4 476.3,453.2 479.6,452.7C482.9,452.2 487.9,452.0 489.6,451.9M496.3,448.3C496.4,450.2 496.7,455.9 496.8,459.6C496.9,463.3 497.0,468.7 497.1,470.5M497.1,466.0C497.8,465.2 499.8,462.3 501.3,461.1C502.8,459.9 504.9,458.4 506.3,458.6C507.7,458.8 508.7,460.0 509.8,462.1C510.9,464.2 512.4,469.7 512.9,471.2M536.4,447.3C538.1,447.4 542.9,447.6 546.4,447.8C549.9,448.0 555.7,448.5 557.6,448.6M548.3,449.3C548.5,450.8 549.2,455.2 549.4,458.0C549.6,460.8 549.9,463.9 549.6,465.9C549.3,467.9 548.8,469.4 547.6,469.8C546.4,470.2 544.3,468.8 542.4,468.0C540.5,467.2 537.4,465.7 536.4,465.2M562.2,449.9C562.3,451.6 562.7,456.7 562.9,460.0C563.1,463.3 562.0,470.2 563.6,469.8C565.2,469.4 570.8,457.9 572.8,457.9C574.8,457.9 573.3,471.4 575.5,469.8C577.7,468.2 584.3,451.6 586.1,448.0M588.8,453.9C590.6,453.2 594.3,450.7 599.4,449.9C604.5,449.1 616.0,449.4 619.3,449.3M604.0,452.6C604.1,454.0 604.3,458.0 604.4,461.0C604.5,464.0 604.4,468.9 604.4,470.5M1324.9,401.5C1324.6,400.2 1324.2,394.8 1322.9,393.5C1321.6,392.2 1318.9,392.2 1316.8,393.5C1314.7,394.8 1311.1,398.6 1310.1,401.5C1309.1,404.4 1309.1,408.5 1310.8,411.0C1312.5,413.5 1317.4,415.6 1320.2,416.3C1323.0,417.0 1326.4,415.2 1327.6,415.0M1336.3,396.2C1336.4,397.8 1336.6,402.4 1336.7,405.7C1336.8,409.0 1337.0,414.4 1337.1,416.1M1338.2,390.7C1339.8,391.0 1344.5,391.2 1347.7,392.5C1350.9,393.8 1356.7,396.7 1357.3,398.4C1357.9,400.1 1353.9,402.2 1351.4,402.8C1349.0,403.4 1343.0,401.4 1342.6,402.1C1342.2,402.8 1346.9,404.9 1349.2,407.2C1351.5,409.5 1355.4,414.6 1356.6,416.1M1366.0,394.1C1365.5,395.7 1363.4,400.6 1363.3,403.6C1363.2,406.6 1363.7,410.2 1365.3,412.3C1366.9,414.4 1369.9,416.4 1372.7,416.3C1375.5,416.2 1380.0,414.1 1382.1,411.6C1384.2,409.1 1385.1,404.4 1385.5,401.5C1385.9,398.6 1384.7,395.3 1384.5,394.1M1390.2,390.1C1391.8,390.8 1396.6,392.6 1400.1,394.5C1403.6,396.4 1409.0,399.1 1411.4,401.4C1413.9,403.7 1415.2,406.3 1414.8,408.3C1414.4,410.3 1411.5,412.4 1408.8,413.5C1406.1,414.6 1401.5,414.6 1398.4,415.2C1395.3,415.8 1391.6,416.6 1390.2,416.9M1396.6,395.3C1396.8,396.7 1397.4,400.9 1397.8,403.9C1398.2,406.9 1398.6,411.9 1398.8,413.5M1443.1,417.6C1443.0,416.1 1442.2,410.9 1442.7,408.7C1443.2,406.5 1444.7,405.3 1446.1,404.3C1447.5,403.3 1449.4,402.6 1451.2,402.8C1453.0,403.0 1456.1,405.2 1457.1,405.7M1466.8,407.9C1468.2,407.7 1473.4,407.6 1474.9,406.8C1476.4,406.1 1476.4,404.2 1475.7,403.4C1475.0,402.6 1472.5,401.5 1470.5,402.0C1468.5,402.5 1465.6,404.6 1463.9,406.4C1462.2,408.2 1460.5,410.5 1460.5,412.6C1460.5,414.7 1462.1,417.4 1463.9,418.9C1465.7,420.4 1468.6,421.7 1471.2,421.7C1473.8,421.8 1478.1,419.6 1479.5,419.2M1497.5,407.1C1495.9,406.8 1490.4,404.7 1487.7,405.4C1485.0,406.1 1481.7,409.3 1481.2,411.1C1480.7,412.9 1482.7,415.4 1484.5,416.0C1486.3,416.6 1489.6,415.8 1491.8,414.4C1494.0,413.1 1496.5,409.0 1497.5,407.9M1495.0,413.6C1494.9,414.7 1493.4,418.1 1494.2,420.1C1495.0,422.1 1499.0,424.8 1499.9,425.7M1504.8,403.8C1504.7,405.0 1503.7,409.3 1504.0,411.2C1504.3,413.1 1505.6,414.4 1506.6,415.2C1507.6,416.0 1508.7,416.6 1510.1,416.3C1511.5,416.0 1513.4,415.0 1515.1,413.2C1516.8,411.4 1519.3,406.5 1520.2,405.2M1520.2,405.2C1520.3,406.2 1520.5,409.2 1520.6,411.2C1520.7,413.2 1520.9,416.1 1521.0,417.1M1532.0,407.9C1533.3,407.7 1538.6,407.6 1540.1,406.8C1541.6,406.1 1541.6,404.2 1540.9,403.4C1540.2,402.6 1537.7,401.5 1535.7,402.0C1533.7,402.5 1530.8,404.6 1529.1,406.4C1527.4,408.2 1525.7,410.5 1525.7,412.6C1525.7,414.7 1527.3,417.4 1529.1,418.9C1530.9,420.4 1533.8,421.7 1536.4,421.7C1539.0,421.8 1543.3,419.6 1544.7,419.2M1560.0,400.6C1558.0,401.2 1550.0,403.3 1548.2,404.3C1546.4,405.3 1546.5,405.1 1548.9,406.5C1551.4,407.9 1560.3,410.7 1562.9,412.4C1565.5,414.1 1565.4,415.8 1564.4,416.8C1563.4,417.8 1559.5,418.7 1557.0,418.3C1554.5,417.9 1550.9,415.2 1549.7,414.6M1574.6,391.6C1574.8,393.8 1575.3,401.0 1575.6,404.8C1575.8,408.6 1575.4,412.3 1576.1,414.5C1576.8,416.7 1578.6,417.9 1579.8,418.1C1581.0,418.3 1582.4,417.0 1583.4,415.8C1584.4,414.6 1585.6,411.6 1586.0,410.8M1566.5,400.4C1568.2,400.0 1573.1,398.8 1576.4,398.3C1579.7,397.8 1584.7,397.6 1586.4,397.5M1380.1,464.3C1378.8,464.7 1375.7,466.3 1372.6,466.7C1369.5,467.1 1363.3,467.5 1361.4,466.7C1359.5,465.9 1360.2,464.5 1361.4,462.0C1362.7,459.5 1367.2,454.7 1368.9,451.7C1370.6,448.7 1371.6,446.2 1371.7,444.2C1371.8,442.2 1370.7,440.0 1369.8,439.5C1368.9,439.0 1366.7,439.8 1366.1,441.4C1365.5,443.0 1365.3,446.4 1366.1,448.9C1366.9,451.4 1369.0,454.1 1370.7,456.4C1372.4,458.7 1374.7,461.5 1376.4,462.9C1378.1,464.3 1380.3,464.5 1381.1,464.8M1409.2,453.6C1409.1,454.8 1408.1,459.1 1408.4,461.0C1408.7,462.9 1410.0,464.1 1411.0,465.0C1412.0,465.9 1413.1,466.4 1414.5,466.1C1415.9,465.8 1417.8,464.9 1419.5,463.0C1421.2,461.1 1423.8,456.3 1424.6,455.0M1424.6,455.0C1424.7,456.0 1424.9,459.0 1425.0,461.0C1425.1,463.0 1425.3,465.9 1425.4,466.9M1442.0,451.2C1440.0,451.8 1432.0,453.9 1430.2,454.9C1428.4,455.9 1428.5,455.8 1430.9,457.1C1433.4,458.5 1442.3,461.3 1444.9,463.0C1447.5,464.7 1447.4,466.4 1446.4,467.4C1445.4,468.4 1441.5,469.3 1439.0,468.9C1436.5,468.5 1432.9,465.8 1431.7,465.2M1458.1,457.3C1459.4,457.1 1464.7,456.9 1466.2,456.2C1467.7,455.4 1467.7,453.6 1467.0,452.8C1466.3,452.0 1463.8,450.9 1461.8,451.4C1459.8,451.9 1456.9,454.0 1455.2,455.8C1453.5,457.6 1451.8,459.9 1451.8,462.0C1451.8,464.1 1453.4,466.8 1455.2,468.3C1457.0,469.8 1459.9,471.1 1462.5,471.1C1465.1,471.2 1469.4,469.0 1470.8,468.6M1474.8,467.2C1474.7,465.7 1473.9,460.5 1474.4,458.3C1474.9,456.1 1476.4,454.9 1477.8,453.9C1479.2,452.9 1481.1,452.2 1482.9,452.4C1484.7,452.6 1487.8,454.8 1488.8,455.3M1510.4,445.1L1513.4,448.0M1512.3,456.1L1513.0,466.1M1529.2,454.5C1528.4,454.4 1526.4,452.8 1524.5,453.6C1522.6,454.5 1518.2,457.7 1517.6,459.6C1517.0,461.6 1519.1,464.7 1520.8,465.3C1522.5,465.9 1525.5,464.9 1527.5,463.4C1529.5,461.9 1532.1,457.6 1533.0,456.4M1535.7,437.6C1535.5,439.8 1534.8,447.1 1534.8,450.8C1534.8,454.6 1535.1,457.5 1535.7,460.1C1536.3,462.8 1538.1,465.6 1538.6,466.7M1722.6,343.3C1722.7,344.9 1722.9,349.5 1723.0,352.8C1723.1,356.1 1723.3,361.5 1723.4,363.2M1724.5,337.8C1726.1,338.1 1730.8,338.3 1734.0,339.6C1737.2,340.9 1743.0,343.8 1743.6,345.5C1744.2,347.2 1740.2,349.3 1737.7,349.9C1735.2,350.5 1729.3,348.5 1728.9,349.2C1728.5,349.9 1733.2,352.0 1735.5,354.3C1737.8,356.6 1741.7,361.7 1742.9,363.2M1729.2,389.7C1728.1,392.8 1723.4,404.2 1722.6,408.2C1721.8,412.2 1721.2,412.8 1724.6,413.6C1728.0,414.4 1740.1,413.0 1743.2,412.9M1741.9,439.5C1740.3,440.0 1735.0,441.6 1732.2,442.5C1729.4,443.4 1726.6,444.0 1725.3,444.7C1724.0,445.4 1723.5,446.0 1724.5,446.9C1725.5,447.8 1728.9,448.9 1731.2,450.0C1733.5,451.1 1737.0,452.1 1738.5,453.5C1740.0,454.9 1741.0,457.2 1740.0,458.7C1739.0,460.2 1735.5,462.3 1732.6,462.4C1729.6,462.5 1724.0,459.9 1722.3,459.4M1811.0,623.3C1810.9,624.9 1810.5,629.6 1810.3,633.0C1810.1,636.4 1809.7,641.7 1809.6,643.4M1809.6,618.2C1811.8,618.9 1819.2,620.8 1822.8,622.4C1826.4,624.0 1830.8,626.3 1831.1,627.8C1831.4,629.3 1827.9,630.6 1824.7,631.5C1821.5,632.4 1814.0,633.0 1811.9,633.3M1869.4,627.8C1867.4,628.4 1859.4,630.5 1857.6,631.5C1855.8,632.5 1855.8,632.4 1858.3,633.7C1860.8,635.1 1869.7,637.9 1872.3,639.6C1874.9,641.3 1874.8,643.0 1873.8,644.0C1872.8,645.0 1868.9,645.9 1866.4,645.5C1864.0,645.1 1860.3,642.4 1859.1,641.8M1884.5,618.7C1884.7,620.9 1885.2,628.1 1885.5,631.9C1885.8,635.7 1885.3,639.4 1886.0,641.6C1886.7,643.8 1888.5,645.0 1889.7,645.2C1890.9,645.4 1892.3,644.1 1893.3,642.9C1894.3,641.7 1895.5,638.7 1895.9,637.9M1876.4,627.5C1878.1,627.1 1883.0,625.9 1886.3,625.4C1889.6,624.9 1894.6,624.7 1896.3,624.6M1914.7,634.4C1913.5,634.0 1909.7,631.2 1907.6,631.7C1905.5,632.2 1902.6,635.5 1902.3,637.1C1902.0,638.7 1904.0,641.1 1905.8,641.5C1907.6,641.9 1911.0,640.7 1912.9,639.7C1914.8,638.7 1916.6,636.0 1917.4,635.3M1917.4,635.3C1917.1,636.6 1916.2,640.6 1915.6,643.2C1915.0,645.9 1914.5,648.4 1913.8,651.2C1913.1,654.0 1913.0,659.5 1911.2,660.1C1909.4,660.7 1904.5,655.7 1903.2,654.8M1922.4,644.3C1922.3,642.8 1921.5,637.6 1922.0,635.4C1922.5,633.2 1924.0,632.0 1925.4,631.0C1926.8,630.0 1928.7,629.3 1930.5,629.5C1932.3,629.7 1935.4,631.9 1936.4,632.4M1945.5,634.8C1946.8,634.6 1952.1,634.5 1953.6,633.7C1955.1,633.0 1955.1,631.1 1954.4,630.3C1953.7,629.5 1951.2,628.4 1949.2,628.9C1947.2,629.4 1944.3,631.5 1942.6,633.3C1940.9,635.1 1939.2,637.4 1939.2,639.5C1939.2,641.6 1940.8,644.3 1942.6,645.8C1944.4,647.3 1947.3,648.5 1949.9,648.6C1952.5,648.7 1956.8,646.5 1958.2,646.1M1972.6,627.8C1970.6,628.4 1962.7,630.5 1960.8,631.5C1959.0,632.5 1959.0,632.4 1961.5,633.7C1964.0,635.1 1972.9,637.9 1975.5,639.6C1978.1,641.3 1978.0,643.0 1977.0,644.0C1976.0,645.0 1972.0,645.9 1969.6,645.5C1967.1,645.1 1963.5,642.4 1962.3,641.8"/><ellipse cx="496.3" cy="201.2" rx="8.0" ry="5.8"/><ellipse cx="1843.6" cy="637.2" rx="8.0" ry="5.8"/><ellipse cx="1369.3" cy="442" rx="4.2" ry="5" fill="#000" stroke="none"/></g>
<!-- Stick figure -->
<g fill="none" stroke-linecap="round" stroke-linejoin="round">
<g stroke="#ced4da" stroke-width="3.6">
<path d="M101,251 L180,165.5 M136,261 L208,179 M222,210 L231,204"/>
</g>
<ellipse cx="142.25" cy="208.5" rx="76.25" ry="57" stroke="#1864ab" stroke-width="7.5"/>
<g stroke="#1864ab" stroke-width="8">
<path d="M153.3,192 L160,181.5 L170.5,193" stroke-width="9"/>
<path d="M182.5,194.4 L194.4,183.8 L205,198" stroke-width="9"/>
<path d="M139.2,228.7 Q160,230 171.6,228.7 Q182,222 190.8,209.5" stroke-width="9.5"/>
<path d="M176,231.6 L199.6,280 Q207,298 208.8,312 Q208,320 204.5,319 Q190,314 148,290.6" stroke-width="8"/>
<path d="M118.6,294.6 Q70,300 45,306 Q24,311 23.5,317 Q24,323 36,331 Q80,356 117,377.3" stroke-width="10.5"/>
<path d="M139.5,311 L133.5,418" stroke-width="9.5"/>
<path d="M144.5,321 L141.5,420" stroke-width="9.5"/>
<path d="M133.5,408.0C133.2,410.0 133.6,415.4 131.5,420.0C129.4,424.6 125.4,430.6 121.1,435.3C116.8,440.0 111.8,444.2 105.7,448.3C99.6,452.4 90.4,456.4 84.5,460.1C78.6,463.8 73.0,467.6 70.3,470.7C67.5,473.8 67.0,476.4 68.0,479.0C69.0,481.6 70.5,483.7 76.2,486.1C81.9,488.5 94.9,491.3 102.2,493.2C109.5,495.1 113.1,496.0 120.0,497.3C126.9,498.6 136.1,499.8 143.6,500.8C151.1,501.8 158.9,503.0 164.8,503.2C170.7,503.4 175.8,503.2 179.0,502.0C182.2,500.8 183.7,498.7 184.3,496.1C184.9,493.5 184.4,490.7 182.5,486.6C180.6,482.5 177.0,477.4 173.1,471.3C169.2,465.2 162.8,457.0 158.9,450.1C155.0,443.2 151.8,435.4 149.5,430.0C147.2,424.6 146.2,421.7 145.0,418.0C143.8,414.3 142.9,409.7 142.5,408.0" fill="#fab005" stroke-width="9.4"/>
<path d="M136.8,504.6 L137.7,566" stroke-width="8"/>
<path d="M39.5,582.2 L119,581 M146.5,582.8 L229,582" stroke-width="10.5"/>
</g>
<path d="M156.0,154.0C151.8,153.5 140.9,148.8 131.0,151.0C121.1,153.2 104.7,162.1 96.5,167.0C88.3,171.9 85.8,175.8 81.7,180.5C77.6,185.2 74.2,190.4 72.0,195.0C69.8,199.6 68.8,203.5 68.5,208.0C68.2,212.5 70.4,217.0 70.5,222.0C70.6,227.0 69.2,235.3 69.0,238.0Q58,260 42,275 Q25,266 21,246 Q20,240 40,240 Q58,239.5 69,238C72.7,237.4 84.3,237.2 91.3,234.5C98.3,231.8 104.9,226.3 111.2,222.0C117.5,217.7 124.0,213.2 128.9,208.5C133.8,203.8 137.5,198.7 140.7,193.5C143.9,188.3 146.1,182.8 148.0,177.5C149.9,172.2 150.7,165.9 152.0,162.0C153.3,158.1 155.3,155.3 156.0,154.0Z" fill="#fab005" stroke="#e67700" stroke-width="10"/><path d="M71,203 Q72.5,222 72.5,234" stroke="#e67700" stroke-width="11.5"/>
</g>
</svg>
</body></html>
